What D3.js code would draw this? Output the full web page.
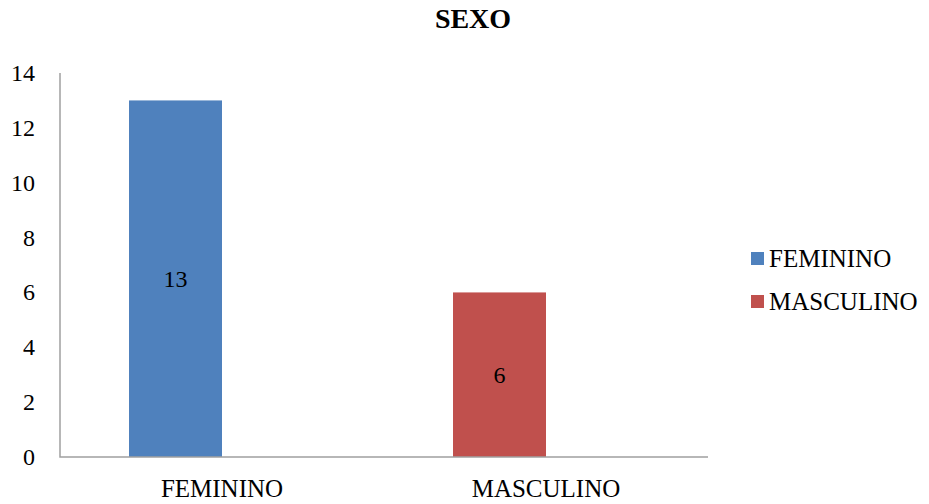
<!DOCTYPE html>
<html>
<head>
<meta charset="utf-8">
<script src="https://cdn.jsdelivr.net/npm/d3@7"></script>
</head>
<body style="margin:0;background:#fff">
<svg id="chart" width="929" height="504" font-family="Liberation Serif"></svg>
<script>
// Data
const title = "SEXO";
const categories = ["FEMININO", "MASCULINO"];
const values = [13, 6];
const colors = ["#4F81BD", "#C0504D"];
const yTicks = [0, 2, 4, 6, 8, 10, 12, 14];

const svg = d3.select("#chart");
const plot = { left: 60, right: 708, top: 73, bottom: 457 };
const FONT = "Liberation Serif";

const x = d3.scaleBand().domain(categories).range([plot.left, plot.right]);
const y = d3.scaleLinear().domain([0, 14]).range([plot.bottom, plot.top]);

// bar sits inside its category band, shifted to the left
const barOffset = x.bandwidth() * 0.213;
const barWidth = x.bandwidth() * 0.287;

// Title
svg.append("text")
  .attr("x", 473).attr("y", 28)
  .attr("text-anchor", "middle")
  .attr("font-family", FONT)
  .attr("font-size", 28)
  .attr("font-weight", "bold")
  .text(title);

// Bars
svg.append("g").selectAll("rect")
  .data(categories)
  .join("rect")
  .attr("x", d => x(d) + barOffset)
  .attr("width", barWidth)
  .attr("y", (d, i) => y(values[i]))
  .attr("height", (d, i) => y(0) - y(values[i]))
  .attr("fill", (d, i) => colors[i]);

// Value labels centred in each bar
svg.append("g").selectAll("text")
  .data(categories)
  .join("text")
  .attr("x", d => x(d) + barOffset + barWidth / 2)
  .attr("y", (d, i) => (y(values[i]) + y(0)) / 2 + 8)
  .attr("text-anchor", "middle")
  .attr("font-family", FONT)
  .attr("font-size", 24)
  .text((d, i) => values[i]);

// Y axis labels
svg.append("g").selectAll("text")
  .data(yTicks)
  .join("text")
  .attr("x", 35)
  .attr("y", d => y(d) + 8)
  .attr("text-anchor", "end")
  .attr("font-family", FONT)
  .attr("font-size", 24)
  .text(d => d);

// X axis labels
svg.append("g").selectAll("text")
  .data(categories)
  .join("text")
  .attr("x", d => x(d) + x.bandwidth() / 2)
  .attr("y", plot.bottom + 40)
  .attr("text-anchor", "middle")
  .attr("font-family", FONT)
  .attr("font-size", 25)
  .text(d => d);

// Axis lines
svg.append("path")
  .attr("d", d3.line()([[plot.left, y(14)], [plot.left, y(0)], [plot.right, y(0)]]))
  .attr("fill", "none")
  .attr("stroke", "#A0A0A0")
  .attr("stroke-width", 1.5);

// Legend
const legend = svg.append("g").attr("transform", "translate(751,252)");
const item = legend.selectAll("g")
  .data(categories)
  .join("g")
  .attr("transform", (d, i) => `translate(0,${i * 43})`);
item.append("rect")
  .attr("width", 13).attr("height", 13)
  .attr("fill", (d, i) => colors[i]);
item.append("text")
  .attr("x", 18).attr("y", 15)
  .attr("font-family", FONT)
  .attr("font-size", 25)
  .text(d => d);
</script>
</body>
</html>
